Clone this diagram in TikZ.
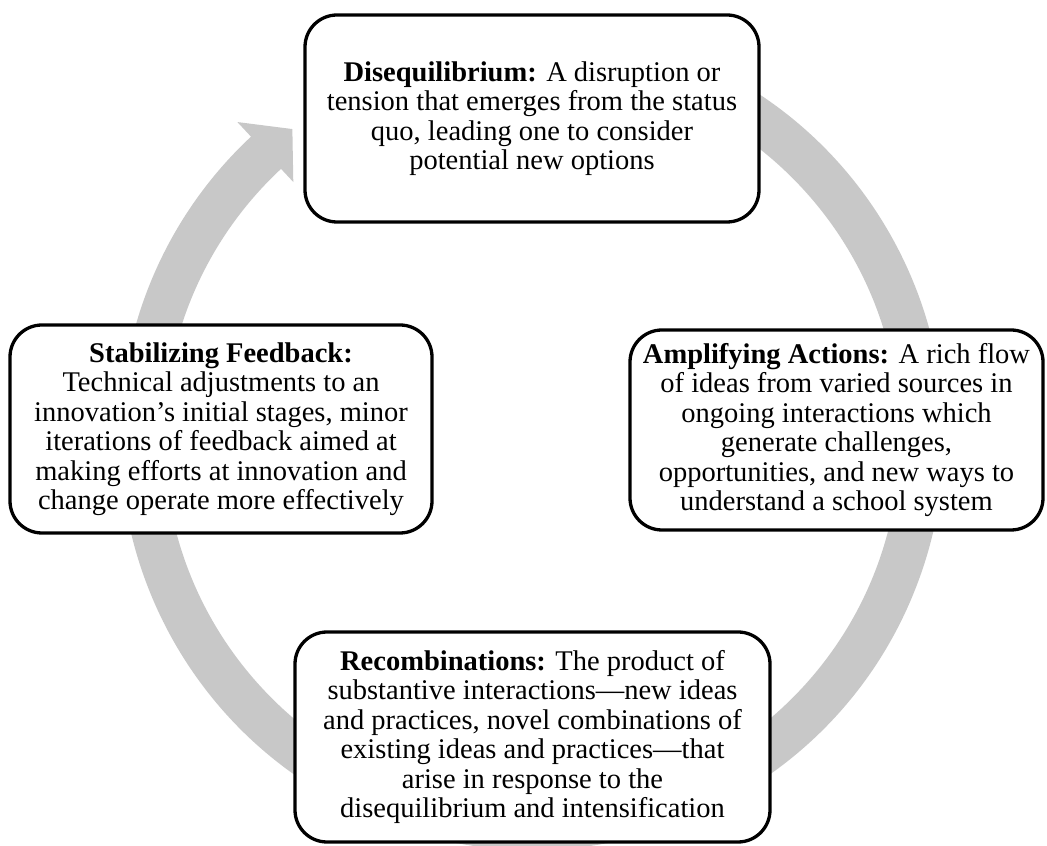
\documentclass[tikz,border=0pt]{standalone}
\usepackage{fontspec}
\setmainfont{Liberation Serif}
\definecolor{ringgray}{RGB}{200,200,200}
\tikzset{
  cyclebox/.style={draw=black, line width=3.3pt, rounded corners=32pt, fill=white,
    align=center, inner sep=0pt, font={\fontsize{28.5}{29.5}\selectfont}},
}
\begin{document}
\begin{tikzpicture}[x=1pt,y=1pt]
\useasboundingbox (0,0) rectangle (1047,846);
\coordinate (ringc) at (532,408);
\begin{scope}[shift={(ringc)}]
\fill[ringgray] (430:412) arc[start angle=430,end angle=133,radius=412]
  -- (133:432) -- (127.8:391) -- (133:350) -- (133:368)
  arc[start angle=133,end angle=430,radius=368] -- cycle;
\end{scope}
\node[cyclebox, minimum width=454, minimum height=207] (diseq) at (532,727.5)
  {\textbf{Disequilibrium:} A disruption or\\tension that emerges  from the status\\quo, leading one to consider\\potential new options};
\node[cyclebox, minimum width=413, minimum height=200] (amp) at (836.5,416)
  {\textbf{Amplifying Actions:} A rich flow\\of ideas from varied sources in\\ongoing interactions which\\generate challenges,\\opportunities, and new ways to\\understand a school system};
\node[cyclebox, minimum width=475, minimum height=210] (recomb) at (532.5,109)
  {\textbf{Recombinations:} The product of\\substantive interactions---new ideas\\and practices, novel combinations of\\existing ideas and practices---that\\arise in response to the\\disequilibrium and intensification};
\node[cyclebox, minimum width=422, minimum height=208] (stab) at (221,417)
  {\textbf{Stabilizing Feedback:}\\Technical adjustments to an\\innovation’s initial stages, minor\\iterations of feedback aimed at\\making efforts at innovation and\\change operate more effectively};
\end{tikzpicture}
\end{document}
